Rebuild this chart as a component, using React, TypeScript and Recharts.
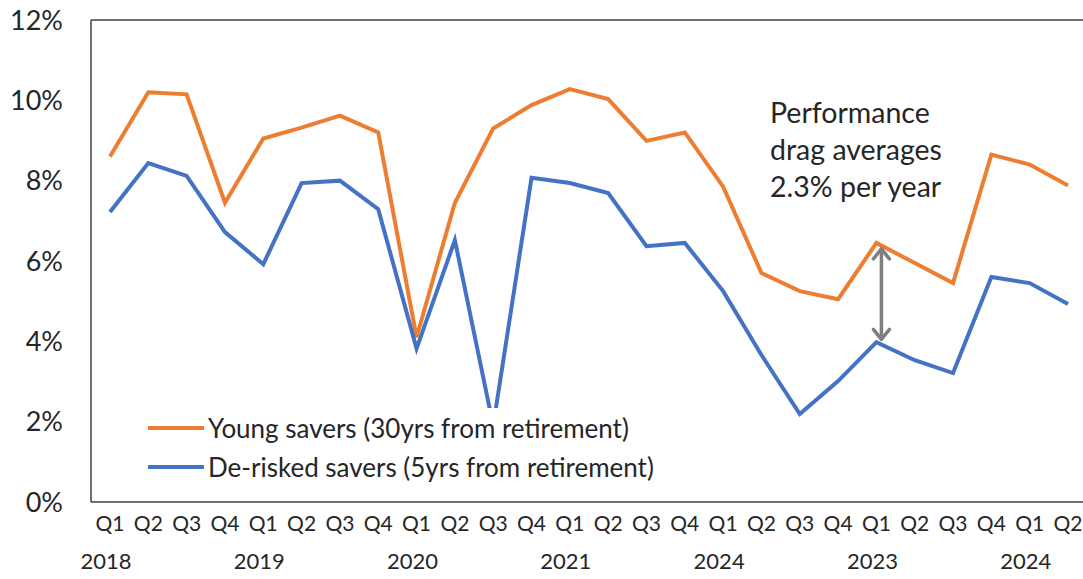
import React from "react";
import { LineChart, Line, XAxis, YAxis, Legend, ReferenceLine } from "recharts";

const quarterLabels = [
  "Q1", "Q2", "Q3", "Q4", "Q1", "Q2", "Q3", "Q4", "Q1", "Q2", "Q3", "Q4", "Q1",
  "Q2", "Q3", "Q4", "Q1", "Q2", "Q3", "Q4", "Q1", "Q2", "Q3", "Q4", "Q1", "Q2",
];
const yearLabels = [
  "2018", "", "", "", "2019", "", "", "", "2020", "", "", "", "2021",
  "", "", "", "2024", "", "", "", "2023", "", "", "", "2024", "",
];
const youngSavers = [
  8.6, 10.2, 10.15, 7.45, 9.05, 9.32, 9.62, 9.2, 4.1, 7.45, 9.3, 9.88, 10.28,
  10.03, 8.99, 9.2, 7.85, 5.7, 5.25, 5.05, 6.45, 5.95, 5.45, 8.65, 8.4, 7.88,
];
const deriskedSavers = [
  7.22, 8.44, 8.12, 6.72, 5.92, 7.94, 8.0, 7.29, 3.82, 6.52, 1.9, 8.07, 7.94,
  7.69, 6.37, 6.45, 5.25, 3.66, 2.19, 3.01, 3.98, 3.53, 3.21, 5.6, 5.45, 4.93,
];
const yTicks = [0, 2, 4, 6, 8, 10, 12];

// gap annotation (Q1 2023)
const gapIndex = 20;
const gapTop = 6.35;
const gapBottom = 4.0;

const ORANGE = "#ED7D31";
const BLUE = "#4472C4";
const TEXT = "#262626";
const FONT = "Lato, 'Open Sans', sans-serif";

const data = quarterLabels.map((q, i) => ({
  idx: i,
  young: youngSavers[i],
  derisked: deriskedSavers[i],
}));

function QuarterTick(props: any) {
  const { x, y, payload } = props;
  const i = Number(payload.value);
  return (
    <g transform={`translate(${x},${y})`}>
      <text textAnchor="middle" y={27} fontSize={21} fill={TEXT} fontFamily={FONT}>
        {quarterLabels[i]}
      </text>
      {yearLabels[i] && (
        <text textAnchor="middle" x={-4} y={65} fontSize={22} fill={TEXT} fontFamily={FONT}>
          {yearLabels[i]}
        </text>
      )}
    </g>
  );
}

function DoubleArrow(props: any) {
  const { x1, y1, x2, y2 } = props;
  const h = 10;
  const w = 8;
  const dx = 5;
  return (
    <g stroke="#7F7F7F" strokeWidth={3.5} fill="none" strokeLinecap="round" strokeLinejoin="round">
      <line x1={x1 + dx} y1={y1 + 2} x2={x2 + dx} y2={y2 - 2} />
      <polyline points={`${x1 + dx - w},${y1 + h + 2} ${x1 + dx},${y1 + 2} ${x1 + dx + w},${y1 + h + 2}`} />
      <polyline points={`${x2 + dx - w},${y2 - h - 2} ${x2 + dx},${y2 - 2} ${x2 + dx + w},${y2 - h - 2}`} />
    </g>
  );
}

function SaversLegend() {
  const rows = [
    { label: "Young savers (30yrs from retirement)", color: ORANGE },
    { label: "De-risked savers (5yrs from retirement)", color: BLUE },
  ];
  return (
    <div style={{ background: "white", padding: "0 6px 2px 4px" }}>
      {rows.map((r) => (
        <div key={r.label} style={{ display: "flex", alignItems: "center", height: 39 }}>
          <span style={{ display: "inline-block", width: 56, height: 4, background: r.color, marginRight: 4 }} />
          <span style={{ fontSize: 26, color: TEXT, fontFamily: FONT, whiteSpace: "nowrap" }}>{r.label}</span>
        </div>
      ))}
    </div>
  );
}

export default function App() {
  return (
    <div style={{ position: "absolute", left: 0, top: 0, width: 1083, height: 579, overflow: "hidden", background: "white" }}>
      <LineChart width={1100} height={579} data={data} margin={{ top: 20, right: 13, bottom: 0, left: 0 }}>
        <XAxis
          dataKey="idx"
          type="category"
          interval={0}
          padding={{ left: 19, right: 19 }}
          tick={<QuarterTick />}
          tickLine={false}
          tickSize={0}
          height={77}
          axisLine={{ stroke: "#404040", strokeWidth: 1.5 }}
        />
        <YAxis
          domain={[0, 12]}
          ticks={yTicks}
          interval={0}
          width={91}
          tickLine={false}
          tickSize={0}
          tickMargin={28}
          tickFormatter={(v: number) => `${v}%`}
          tick={{ fontSize: 27, fill: TEXT, fontFamily: FONT }}
          axisLine={{ stroke: "#404040", strokeWidth: 1.5 }}
        />
        <ReferenceLine y={12} stroke="#404040" strokeWidth={1.5} />
        <Line
          dataKey="young"
          name="Young savers (30yrs from retirement)"
          stroke={ORANGE}
          strokeWidth={4}
          dot={false}
          type="linear"
          isAnimationActive={false}
        />
        <Line
          dataKey="derisked"
          name="De-risked savers (5yrs from retirement)"
          stroke={BLUE}
          strokeWidth={4}
          dot={false}
          type="linear"
          isAnimationActive={false}
        />
        <ReferenceLine
          segment={[{ x: gapIndex, y: gapTop }, { x: gapIndex, y: gapBottom }]}
          ifOverflow="visible"
          shape={<DoubleArrow />}
        />
        <Legend
          layout="vertical"
          align="center"
          verticalAlign="middle"
          content={<SaversLegend />}
          wrapperStyle={{ position: "absolute", left: 144, top: 408, width: "auto", height: "auto" }}
        />
      </LineChart>
      <div
        style={{
          position: "absolute",
          left: 770,
          top: 94,
          fontSize: 28.5,
          lineHeight: "37px",
          color: TEXT,
          fontFamily: FONT,
        }}
      >
        Performance
        <br />
        drag averages
        <br />
        2.3% per year
      </div>
    </div>
  );
}
